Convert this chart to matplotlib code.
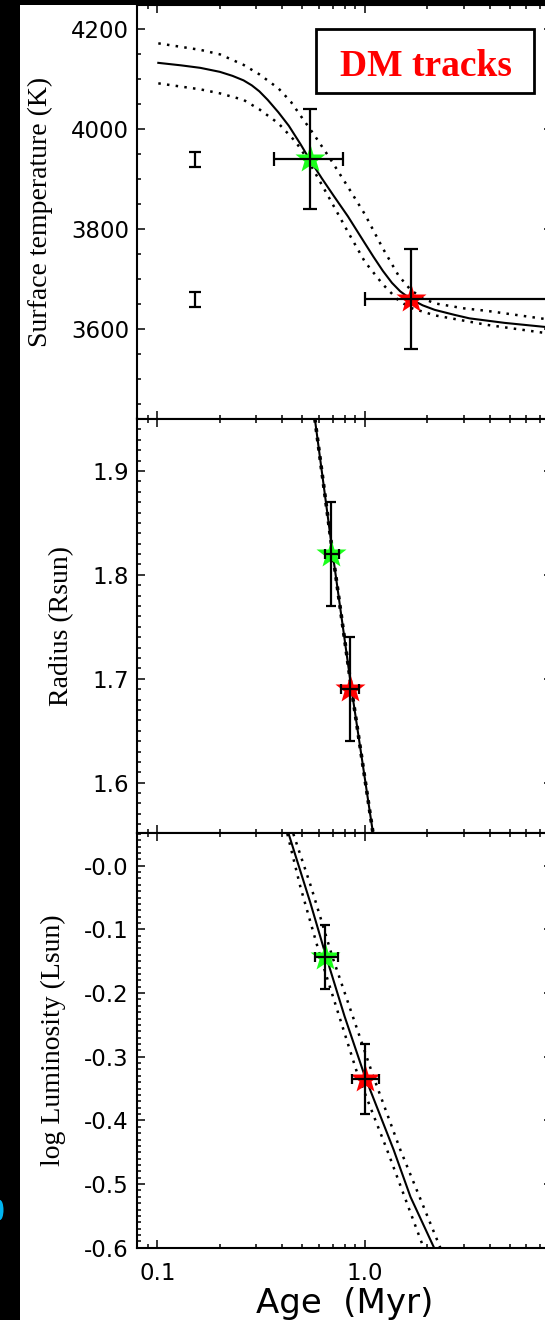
import matplotlib
matplotlib.use("Agg")
import matplotlib.pyplot as plt
from matplotlib.patches import Rectangle, Ellipse
from matplotlib.ticker import FixedLocator, LogLocator, NullFormatter, FixedFormatter, MultipleLocator

plt.rcParams['font.family'] = ['DejaVu Sans']
plt.rcParams['axes.unicode_minus'] = False

GREEN = '#1aff1a'
RED = '#ff0000'

# ---- surface temperature panel ----
teff_age = [0.101, 0.130, 0.161, 0.200, 0.230, 0.260, 0.285, 0.310, 0.340, 0.383,
            0.430, 0.490, 0.541, 0.620, 0.710, 0.828, 1.00, 1.10, 1.22, 1.35,
            1.48, 1.67, 1.90, 2.17, 2.70, 3.19, 4.70, 7.31, 9.0]
teff_mid = [4133, 4128, 4123, 4115, 4107, 4098, 4088, 4076, 4059, 4034,
            4007, 3970, 3940, 3902, 3866, 3826, 3772, 3745, 3717, 3693,
            3676, 3660, 3648, 3639, 3629, 3622, 3613, 3605, 3602]
teff_hi_age = [0.101, 0.161, 0.200, 0.260, 0.310, 0.383, 0.440, 0.500, 0.563, 0.683,
               0.828, 1.00, 1.22, 1.45, 1.66, 1.90, 2.17, 3.00, 3.87, 7.31, 9.0]
teff_hi = [4172, 4159, 4150, 4129, 4110, 4082, 4055, 4022, 3992, 3940,
           3885, 3830, 3762, 3708, 3679, 3662, 3652, 3642, 3637, 3621, 3618]
teff_lo_age = [0.101, 0.161, 0.200, 0.260, 0.310, 0.383, 0.464, 0.520, 0.563, 0.683,
               0.828, 1.00, 1.22, 1.45, 1.66, 2.17, 3.87, 7.31, 9.0]
teff_lo = [4092, 4080, 4072, 4059, 4040, 4012, 3975, 3945, 3920, 3858,
           3795, 3735, 3690, 3658, 3643, 3628, 3609, 3593, 3590]
# stars: green, red
teff_star_age = [0.541, 1.67]
teff_star = [3940, 3660]
teff_star_xlo = [0.3656, 1.0]
teff_star_xhi = [0.782, 10.0]
teff_star_yerr = [100, 100]
# small reference error bars
teff_ref_age = [0.1517, 0.1517]
teff_ref = [3939, 3659]
teff_ref_err = [15, 15]

# ---- radius panel ----
rad_age = [0.574, 0.700, 0.862, 1.093]
rad_mid = [1.95, 1.82, 1.69, 1.552]
rad_star_age = [0.687, 0.850]
rad_star = [1.82, 1.69]
rad_star_xlo = [0.639, 0.770]
rad_star_xhi = [0.747, 0.940]
rad_star_yerr = [0.05, 0.05]

# ---- luminosity panel ----
lum_age = [0.429, 0.5455, 0.644, 0.797, 1.0, 1.375, 1.658, 2.155]
lum_mid = [0.05, -0.058, -0.138, -0.236, -0.331, -0.446, -0.520, -0.600]
lum_lo_age = [0.4228, 0.4884, 0.610, 0.929, 1.278, 1.918]
lum_lo = [0.05, -0.033, -0.143, -0.331, -0.446, -0.6]
lum_hi_age = [0.4518, 0.550, 0.697, 1.098, 1.481, 2.309]
lum_hi = [0.05, -0.033, -0.143, -0.331, -0.446, -0.6]
lum_star_age = [0.644, 1.0]
lum_star = [-0.143, -0.335]
lum_star_xlo = [0.574, 0.868]
lum_star_xhi = [0.738, 1.163]
lum_star_yerr = [0.05, 0.055]

# ticks
teff_ticks = [3600, 3800, 4000, 4200]
rad_ticks = [1.6, 1.7, 1.8, 1.9]
lum_ticks = [0.0, -0.1, -0.2, -0.3, -0.4, -0.5, -0.6]
lum_ticklabels = ['-0.0', '-0.1', '-0.2', '-0.3', '-0.4', '-0.5', '-0.6']
age_ticks = [0.1, 1.0, 10.0]
age_ticklabels = ['0.1', '1.0', '10']

fig = plt.figure(figsize=(5.45, 13.2), dpi=100)
fig.patch.set_facecolor('white')

L, W = 137.3 / 545, 415 / 545
ax1 = fig.add_axes([L, 1 - 418.5 / 1320, W, 413.5 / 1320])
ax2 = fig.add_axes([L, 1 - 833 / 1320, W, 414.5 / 1320])
ax3 = fig.add_axes([L, 1 - 1248 / 1320, W, 415 / 1320])


def style(ax, ylim, yticks, yminor, ylabel, label_x, ylabels=None, bottom=False):
    ax.set_xscale('log')
    ax.set_xlim(0.08, 8.0)
    ax.set_ylim(*ylim)
    ax.xaxis.set_major_locator(FixedLocator(age_ticks))
    ax.xaxis.set_minor_locator(LogLocator(base=10, subs=range(2, 10)))
    ax.xaxis.set_minor_formatter(NullFormatter())
    if bottom:
        ax.xaxis.set_major_formatter(FixedFormatter(age_ticklabels))
    else:
        ax.xaxis.set_major_formatter(NullFormatter())
    ax.yaxis.set_major_locator(FixedLocator(yticks))
    ax.yaxis.set_minor_locator(MultipleLocator(yminor))
    if ylabels is not None:
        ax.yaxis.set_major_formatter(FixedFormatter(ylabels))
    ax.tick_params(which='both', direction='in', top=True, right=True, width=1.1,
                   labelsize=16.5, colors='black')
    ax.tick_params(which='major', length=5.5)
    ax.tick_params(which='minor', length=3)
    ax.tick_params(axis='y', pad=6)
    ax.tick_params(axis='x', pad=10)
    for s in ax.spines.values():
        s.set_linewidth(1.5)
    ax.set_ylabel(ylabel, fontsize=20, family='Liberation Serif')
    ax.yaxis.set_label_coords(label_x, 0.5)


dot = (0, (1, 2.5))

# panel 1
ax1.plot(teff_age, teff_mid, color='k', lw=1.5, zorder=2)
ax1.plot(teff_hi_age, teff_hi, color='k', lw=1.8, ls=dot, zorder=2)
ax1.plot(teff_lo_age, teff_lo, color='k', lw=1.8, ls=dot, zorder=2)
ax1.plot(teff_star_age[0], teff_star[0], marker='*', ms=22, color=GREEN, mec='none', ls='none', zorder=3)
ax1.plot(teff_star_age[1], teff_star[1], marker='*', ms=22, color=RED, mec='none', ls='none', zorder=3)
ax1.errorbar(teff_star_age, teff_star,
             xerr=[[a - b for a, b in zip(teff_star_age, teff_star_xlo)],
                   [b - a for a, b in zip(teff_star_age, teff_star_xhi)]],
             yerr=teff_star_yerr, fmt='none', ecolor='k', elinewidth=1.6,
             capsize=5.2, capthick=1.6, zorder=4)
ax1.errorbar(teff_ref_age, teff_ref, yerr=teff_ref_err, fmt='none', ecolor='k',
             elinewidth=1.6, capsize=4, capthick=1.6, zorder=4)
ax1.add_patch(Rectangle((0.4313, 0.7865), 0.5234, 0.1547, transform=ax1.transAxes,
                        facecolor='white', edgecolor='black', lw=2, zorder=5))
ax1.text(0.6964, 0.8283, 'DM tracks', transform=ax1.transAxes, ha='center', va='baseline',
         fontsize=27, fontweight='bold', family='Liberation Serif', color=RED, zorder=6)
style(ax1, (3421.7, 4248.7), teff_ticks, 50, 'Surface temperature (K)', -0.2031)

# panel 2
ax2.plot(rad_age, rad_mid, color='k', lw=1.5, zorder=2)
ax2.plot(rad_age, rad_mid, color='k', lw=2.6, ls=(0, (1, 1.6)), zorder=2)
ax2.plot(rad_star_age[0], rad_star[0], marker='*', ms=22, color=GREEN, mec='none', ls='none', zorder=3)
ax2.plot(rad_star_age[1], rad_star[1], marker='*', ms=22, color=RED, mec='none', ls='none', zorder=3)
ax2.errorbar(rad_star_age, rad_star,
             xerr=[[a - b for a, b in zip(rad_star_age, rad_star_xlo)],
                   [b - a for a, b in zip(rad_star_age, rad_star_xhi)]],
             yerr=rad_star_yerr, fmt='none', ecolor='k', elinewidth=1.6,
             capsize=3.8, capthick=1.6, zorder=4)
style(ax2, (1.5516, 1.9505), rad_ticks, 0.01, 'Radius (Rsun)', -0.1525)

# panel 3
ax3.plot(lum_age, lum_mid, color='k', lw=1.5, zorder=2)
ax3.plot(lum_lo_age, lum_lo, color='k', lw=1.8, ls=dot, zorder=2)
ax3.plot(lum_hi_age, lum_hi, color='k', lw=1.8, ls=dot, zorder=2)
ax3.plot(lum_star_age[0], lum_star[0], marker='*', ms=22, color=GREEN, mec='none', ls='none', zorder=3)
ax3.plot(lum_star_age[1], lum_star[1], marker='*', ms=22, color=RED, mec='none', ls='none', zorder=3)
ax3.errorbar(lum_star_age, lum_star,
             xerr=[[a - b for a, b in zip(lum_star_age, lum_star_xlo)],
                   [b - a for a, b in zip(lum_star_age, lum_star_xhi)]],
             yerr=lum_star_yerr, fmt='none', ecolor='k', elinewidth=1.6,
             capsize=3.8, capthick=1.6, zorder=4)
style(ax3, (-0.6003, 0.0513), lum_ticks, 0.01, 'log Luminosity (Lsun)', -0.1718,
      ylabels=lum_ticklabels, bottom=True)

fig.text(0.6327, 1 - 1313 / 1320, 'Age  (Myr)', ha='center', va='baseline', fontsize=24.5)

# black borders of the cropped screenshot
fig.add_artist(Rectangle((0, 0), 20 / 545, 1, transform=fig.transFigure,
                         facecolor='black', edgecolor='none', zorder=10))
fig.add_artist(Rectangle((0, 1 - 5 / 1320), 1, 5 / 1320, transform=fig.transFigure,
                         facecolor='black', edgecolor='none', zorder=10))
fig.add_artist(Ellipse((0, 1 - 1210 / 1320), 7 / 545, 20 / 1320, transform=fig.transFigure,
                       facecolor='#00b4f0', edgecolor='none', zorder=11))

fig.savefig('out.png', dpi=100)
